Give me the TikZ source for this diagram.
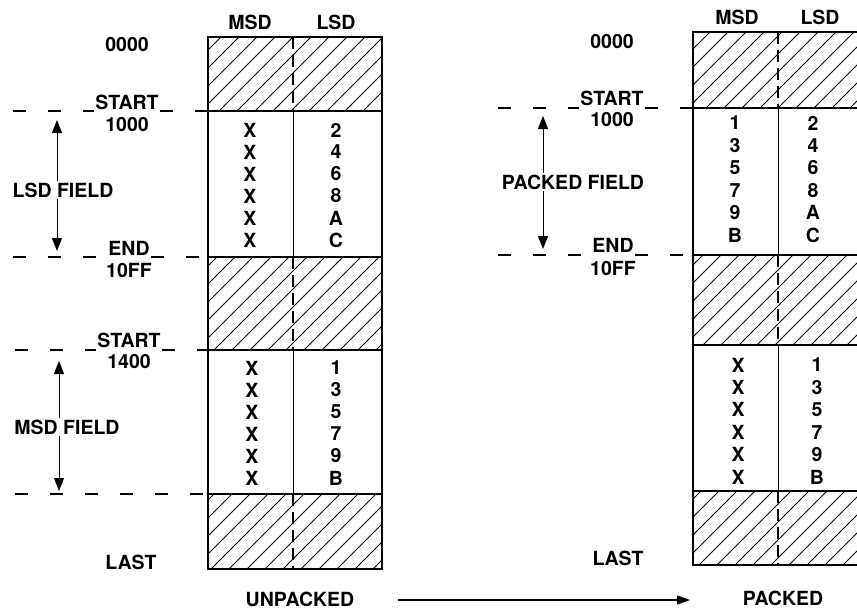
\documentclass[tikz,border=0pt]{standalone}
\usepackage{fontspec}
\setmainfont{TeX Gyre Heros}
\usetikzlibrary{arrows.meta}
\begin{document}
\begin{tikzpicture}[x=1pt,y=-1pt,
  lbl/.style={font=\fontsize{19.5}{21}\selectfont\bfseries, inner sep=1pt},
  outl/.style={line width=2.3pt},
  guide/.style={line width=1.4pt, dash pattern=on 13pt off 22pt},
  hatch/.style={line width=0.8pt},
  sepsolid/.style={line width=1pt},
  sepdash/.style={line width=1.4pt, dash pattern=on 12pt off 6pt},
  span/.style={line width=1pt, -{Triangle[length=13pt,width=10pt]}, shorten >=0pt},
]
\useasboundingbox (0,0) rectangle (857,611);
\clip (0,0) rectangle (857,611);

% ================= LEFT: UNPACKED =================
\begin{scope}
  \clip (208,37) rectangle (382,111) (208,257) rectangle (382,350) (208,494) rectangle (382,569);
  \foreach \x in {-330,-312,...,400} \draw[hatch] (\x,570) -- ++(540,-540);
\end{scope}
\draw[outl] (208,37) rectangle (382,569);
\foreach \y in {111,257,350,494} \draw[outl] (208,\y) -- (382,\y);
\draw[sepdash] (293,37) -- (293,111);
\draw[sepdash] (293,257) -- (293,350);
\draw[sepdash] (293,494) -- (293,569);
\draw[sepsolid] (293,111) -- (293,257);
\draw[sepsolid] (293,350) -- (293,494);

\node[lbl] (lmsd) at (250,22) {MSD};
\node[lbl] (llsd) at (336,22) {LSD};
\node[lbl] (l0000) at (127,45) {0000};
\node[lbl] (lstart1) at (127,102) {START};
\node[lbl] (l1000) at (127,125) {1000};
\node[lbl] (lend) at (129,248) {END};
\node[lbl] (l10ff) at (129,270) {10FF};
\node[lbl] (lstart2) at (129,340) {START};
\node[lbl] (l1400) at (129,362) {1400};
\node[lbl] (llast) at (131,562) {LAST};
\node[lbl] (unp) at (300,599) {UNPACKED};

\coordinate (g1a) at (13,111);  \coordinate (g1b) at (208,111);
\coordinate (g2a) at (13,257);  \coordinate (g2b) at (208,257);
\coordinate (g3a) at (15,350);  \coordinate (g3b) at (208,350);
\coordinate (g4a) at (15,494);  \coordinate (g4b) at (208,494);
\draw[guide] (g1a) -- (lstart1.west |- g1a);
\draw[guide] (lstart1.east |- g1a) -- (g1b);
\draw[guide] (g2a) -- (lend.west |- g2a);
\draw[guide] (lend.east |- g2a) -- (g2b);
\draw[guide] (g3a) -- (lstart2.west |- g3a);
\draw[guide] (lstart2.east |- g3a) -- (g3b);
\draw[guide] (g4a) -- (g4b);

\node[lbl] (lsdf) at (63,190) {LSD FIELD};
\coordinate (lsdt) at (57,120); \coordinate (lsdb) at (57,251);
\draw[span] (lsdf.north -| lsdt) -- (lsdt);
\draw[span] (lsdf.south -| lsdb) -- (lsdb);

\node[lbl] (msdf) at (67,427) {MSD FIELD};
\coordinate (msdt) at (59,361); \coordinate (msdb) at (59,491);
\draw[span] (msdf.north -| msdt) -- (msdt);
\draw[span] (msdf.south -| msdb) -- (msdb);

\foreach \a/\b [count=\i from 0] in {X/2,X/4,X/6,X/8,X/A,X/C}
  { \node[lbl] (lua\i) at (250,{130+22*\i}) {\a};
    \node[lbl] (lub\i) at (336,{130+22*\i}) {\b}; }
\foreach \a/\b [count=\i from 0] in {X/1,X/3,X/5,X/7,X/9,X/B}
  { \node[lbl] (lla\i) at (252,{368+22*\i}) {\a};
    \node[lbl] (llb\i) at (336,{368+22*\i}) {\b}; }

% ================= RIGHT: PACKED =================
\begin{scope}
  \clip (693,32) rectangle (870,108) (693,255) rectangle (870,345) (693,491) rectangle (870,565);
  \foreach \x in {140,158,...,890} \draw[hatch] (\x,566) -- ++(540,-540);
\end{scope}
\draw[outl] (693,32) rectangle (866,565);
\foreach \y in {108,255,345,491} \draw[outl] (693,\y) -- (866,\y);
\draw[sepdash] (778,32) -- (778,108);
\draw[sepdash] (778,255) -- (778,345);
\draw[sepdash] (778,491) -- (778,565);
\draw[sepsolid] (778,108) -- (778,255);
\draw[sepsolid] (778,345) -- (778,491);

\node[lbl] (rmsd) at (737,17) {MSD};
\node[lbl] (rlsd) at (820,17) {LSD};
\node[lbl] (r0000) at (612,42) {0000};
\node[lbl] (rstart) at (612,98) {START};
\node[lbl] (r1000) at (612,120) {1000};
\node[lbl] (rend) at (613,245) {END};
\node[lbl] (r10ff) at (613,268) {10FF};
\node[lbl] (rlast) at (618,558) {LAST};
\node[lbl] (pk) at (783,598) {PACKED};

\coordinate (h1a) at (498,108); \coordinate (h1b) at (693,108);
\coordinate (h2a) at (498,255); \coordinate (h2b) at (693,255);
\draw[guide] (h1a) -- (rstart.west |- h1a);
\draw[guide] (rstart.east |- h1a) -- (h1b);
\draw[guide] (h2a) -- (rend.west |- h2a);
\draw[guide] (rend.east |- h2a) -- (h2b);

\node[lbl] (pkf) at (573,182) {PACKED FIELD};
\coordinate (pkt) at (543,116); \coordinate (pkb) at (543,249);
\draw[span] (pkf.north -| pkt) -- (pkt);
\draw[span] (pkf.south -| pkb) -- (pkb);

\foreach \a/\b [count=\i from 0] in {1/2,3/4,5/6,7/8,9/A,B/C}
  { \node[lbl] (rua\i) at (735,{123+22.4*\i}) {\a};
    \node[lbl] (rub\i) at (813,{123+22.4*\i}) {\b}; }
\foreach \a/\b [count=\i from 0] in {X/1,X/3,X/5,X/7,X/9,X/B}
  { \node[lbl] (rla\i) at (738,{365+22.4*\i}) {\a};
    \node[lbl] (rlb\i) at (817,{365+22.4*\i}) {\b}; }

% ================= transition arrow =================
\coordinate (ta) at (398,600);
\coordinate (tb) at (690,600);
\draw[line width=1.3pt, -{Triangle[length=13pt,width=9pt]}] (ta) -- (tb);
\end{tikzpicture}
\end{document}
